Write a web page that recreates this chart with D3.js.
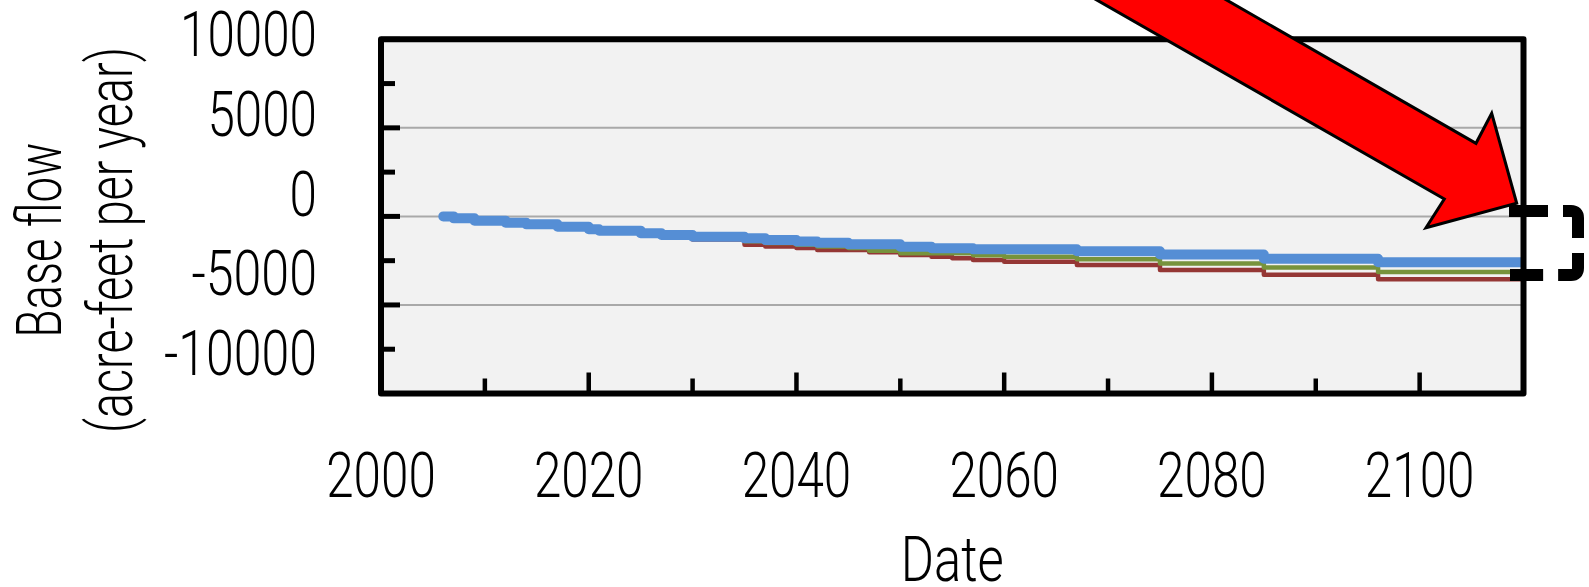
<!DOCTYPE html>
<html>
<head>
<meta charset="utf-8">
<script src="https://cdn.jsdelivr.net/npm/d3@7"></script>
<style>
  html, body { margin: 0; padding: 0; background: #ffffff; }
  svg { display: block; }
  text { font-family: Roboto, "Liberation Sans", Arial, sans-serif; font-weight: 300; fill: #000; }
</style>
</head>
<body>
<svg id="chart" width="1589" height="587"></svg>
<script>
// Simulated change in base flow, three scenarios, stepped by stress period
const stepYears = [2006, 2007, 2009, 2012, 2014, 2017, 2020, 2021, 2025, 2027, 2030, 2035, 2037,
                   2040, 2042, 2045, 2047, 2050, 2053, 2055, 2057, 2060, 2067, 2075, 2085, 2096, 2110];
const blueFlow  = [0, -110, -240, -355, -450, -580, -730, -805, -955, -1050, -1145, -1240, -1333,
                   -1420, -1483, -1578, -1578, -1709, -1803, -1803, -1860, -1860, -1965, -2150, -2390, -2590, -2590];
const greenFlow = [0, -110, -240, -358, -455, -590, -745, -830, -985, -1085, -1200, -1400, -1500,
                   -1600, -1700, -1780, -1935, -2085, -2085, -2085, -2198, -2274, -2420, -2660, -2890, -3140, -3140];
const redFlow   = [0, -110, -240, -360, -460, -600, -760, -850, -1010, -1120, -1300, -1600, -1700,
                   -1790, -1900, -1900, -2030, -2180, -2280, -2370, -2460, -2556, -2745, -3030, -3290, -3545, -3545];

const xDomain = [2000, 2110];
const yDomain = [-10000, 10000];
const xLabelValues = [2000, 2020, 2040, 2060, 2080, 2100];
const yLabelValues = [10000, 5000, 0, -5000, -10000];
const gridValues = [5000, 0, -5000];

const svg = d3.select("#chart");

const plot = { left: 381, right: 1523.5, top: 39.3, bottom: 393.5 };

const x = d3.scaleLinear().domain(xDomain).range([plot.left, plot.right]);
const y = d3.scaleLinear().domain(yDomain).range([plot.bottom, plot.top]);
// the value labels sit on their own evenly spaced column left of the frame
const yLabel = d3.scaleLinear().domain(yDomain).range([354, 35]);

// condensed numerals: fixed advance per digit, narrower hyphen
const labelWidth = s => Array.from(String(s)).reduce((w, c) => w + (c === "-" ? 16 : 27.4), 0);

// plot background
svg.append("rect")
  .attr("x", plot.left).attr("y", plot.top)
  .attr("width", plot.right - plot.left).attr("height", plot.bottom - plot.top)
  .attr("fill", "#f2f2f2");

svg.append("clipPath").attr("id", "plotClip")
  .append("rect")
  .attr("x", plot.left).attr("y", plot.top)
  .attr("width", plot.right - plot.left).attr("height", plot.bottom - plot.top);

// horizontal gridlines
svg.append("g").selectAll("line").data(gridValues).join("line")
  .attr("x1", plot.left).attr("x2", plot.right)
  .attr("y1", d => y(d)).attr("y2", d => y(d))
  .attr("stroke", "#a9a9a9").attr("stroke-width", 2);

// series
const series = [
  { values: redFlow,   color: "#953735", width: 4.5 },
  { values: greenFlow, color: "#77933c", width: 4.5 },
  { values: blueFlow,  color: "#558ed5", width: 10 }
];
const line = d3.line()
  .x(d => x(d[0]))
  .y(d => y(d[1]))
  .curve(d3.curveStepAfter);

svg.append("g").attr("clip-path", "url(#plotClip)")
  .selectAll("path").data(series).join("path")
  .attr("d", s => line(stepYears.map((yr, i) => [yr, s.values[i]])))
  .attr("fill", "none")
  .attr("stroke", s => s.color)
  .attr("stroke-width", s => s.width)
  .attr("stroke-linecap", "round")
  .attr("stroke-linejoin", "round");

// inward tick marks
const yTicks = d3.range(-10000, 10001, 2500);
svg.append("g").selectAll("line").data(yTicks).join("line")
  .attr("x1", plot.left).attr("x2", d => plot.left + (d % 5000 === 0 ? 19 : 14))
  .attr("y1", d => y(d)).attr("y2", d => y(d))
  .attr("stroke", "#000").attr("stroke-width", 5);

const xTicks = d3.range(2010, 2101, 10);
svg.append("g").selectAll("line").data(xTicks).join("line")
  .attr("x1", d => x(d)).attr("x2", d => x(d))
  .attr("y1", plot.bottom).attr("y2", d => plot.bottom - (d % 20 === 0 ? 21 : 15))
  .attr("stroke", "#000").attr("stroke-width", 4.5);

// plot frame
svg.append("rect")
  .attr("x", plot.left).attr("y", plot.top)
  .attr("width", plot.right - plot.left).attr("height", plot.bottom - plot.top)
  .attr("fill", "none").attr("stroke", "#000").attr("stroke-width", 6)
  .attr("stroke-linejoin", "round");

// tick labels
svg.append("g").selectAll("text").data(yLabelValues).join("text")
  .attr("x", 317)
  .attr("y", d => yLabel(d) + 21)
  .attr("text-anchor", "end")
  .attr("font-size", 63)
  .attr("textLength", d => labelWidth(d)).attr("lengthAdjust", "spacingAndGlyphs")
  .text(d => String(d));

svg.append("g").selectAll("text").data(xLabelValues).join("text")
  .attr("x", d => x(d))
  .attr("y", 496.5)
  .attr("text-anchor", "middle")
  .attr("font-size", 63)
  .attr("textLength", d => labelWidth(d)).attr("lengthAdjust", "spacingAndGlyphs")
  .text(d => String(d));

// axis titles
svg.append("text")
  .attr("x", (plot.left + plot.right) / 2).attr("y", 581)
  .attr("text-anchor", "middle").attr("font-size", 63)
  .attr("textLength", 103).attr("lengthAdjust", "spacingAndGlyphs")
  .text("Date");

const yTitle = svg.append("g").attr("transform", "translate(0,240) rotate(-90)");
yTitle.append("text").attr("x", 0).attr("y", 61)
  .attr("text-anchor", "middle").attr("font-size", 63)
  .attr("textLength", 195).attr("lengthAdjust", "spacingAndGlyphs")
  .text("Base flow");
yTitle.append("text").attr("x", 0).attr("y", 132)
  .attr("text-anchor", "middle").attr("font-size", 63)
  .attr("textLength", 386).attr("lengthAdjust", "spacingAndGlyphs")
  .text("(acre-feet per year)");

// callout arrow pointing at the end of the curves
const arrowPts = [
  [1026.9, -40], [1156.9, -40],
  [1476, 143.3], [1491.7, 113.3], [1516.7, 203.3],
  [1426, 227.7], [1444.3, 199]
];
svg.append("polygon")
  .attr("points", arrowPts.map(p => p.join(",")).join(" "))
  .attr("fill", "#ff0000")
  .attr("stroke", "#000").attr("stroke-width", 3)
  .attr("stroke-linejoin", "miter");

// dashed bracket around the end values
svg.append("path")
  .attr("d", "M1509,211 H1571 Q1578,211 1578,218 V268 Q1578,275 1571,275 H1510")
  .attr("fill", "none")
  .attr("stroke", "#000").attr("stroke-width", 12)
  .attr("stroke-dasharray", "39,15");
</script>
</body>
</html>
